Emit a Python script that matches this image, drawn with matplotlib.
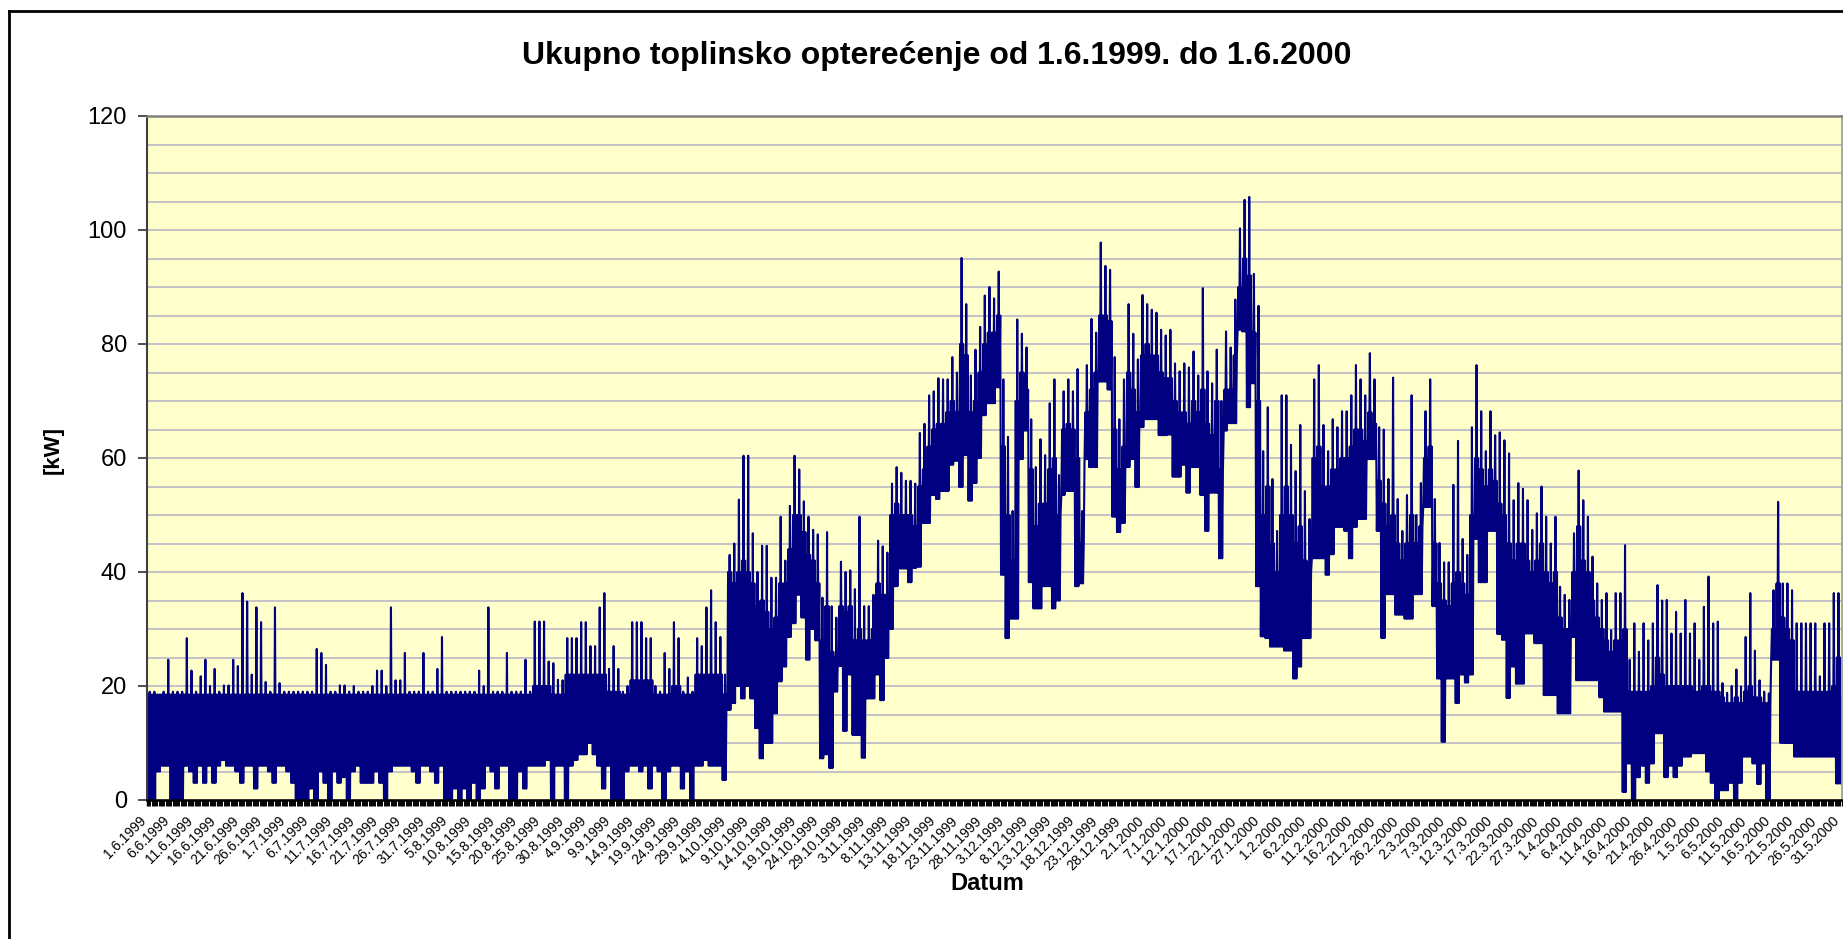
import datetime
import numpy as np
import matplotlib.pyplot as plt
from matplotlib.lines import Line2D
from matplotlib.transforms import ScaledTranslation

plt.rcParams['font.family'] = ['Liberation Sans', 'DejaVu Sans']

# dnevne vrijednosti (1.6.1999 - 31.5.2000), procijenjene sa slike
dan_max = [
    19, 19, 18.5, 19, 24.6, 19, 19, 19, 28.4, 22.7,
    19, 21.7, 24.6, 20, 23, 19, 20.1, 20.1, 24.6, 23.5,
    36.3, 34.8, 22, 33.8, 31.2, 20.7, 19, 33.8, 20.5, 19,
    19, 19, 19, 19, 19, 19, 26.5, 25.8, 23.7, 19,
    19, 20.1, 20.1, 19, 20, 19, 19, 19, 20, 22.7,
    22.7, 20, 33.8, 21, 21, 25.8, 19, 19, 19, 25.8,
    19, 19, 23, 28.6, 19, 19, 19, 19, 19, 19,
    19, 22.7, 20, 33.8, 19, 19, 19, 25.8, 19, 19,
    19, 24.6, 19, 31.3, 31.3, 31.3, 24.3, 24, 21.1, 21,
    28.4, 28.4, 28.4, 31.2, 31.2, 27, 27, 33.8, 36.3, 23,
    27, 23, 19, 20, 31.2, 31.2, 31.2, 28.4, 28.4, 20,
    19, 25.8, 23, 31.2, 28.4, 19, 21.5, 19, 28.4, 27,
    33.8, 36.8, 31.2, 28.6, 22, 43, 45, 52.7, 60.4, 60.4,
    46.8, 40, 44.6, 44.6, 39, 39, 49.7, 42, 51.6, 60.4,
    58, 52.4, 49.7, 47.4, 46.6, 35.5, 47, 34, 32, 41.8,
    40, 40.3, 37, 49.7, 34, 34, 36, 45.5, 44.5, 43.4,
    55.5, 58.4, 57.4, 56, 56, 55.5, 64.4, 66, 71, 71.7,
    74, 73.8, 73.8, 77.7, 75, 95.1, 87, 74.5, 79, 83,
    88.5, 90, 88, 92.7, 73.8, 63.7, 50.7, 84.3, 81.8, 79.4,
    66.8, 58.4, 63.3, 60.5, 69.6, 73.8, 57, 71.7, 73.8, 71.7,
    75.6, 50.7, 76.3, 84.4, 82, 97.8, 93.7, 93, 77.7, 66.8,
    73.8, 87, 81.8, 77.3, 88.6, 87, 86, 85.5, 82.5, 81.5,
    82.5, 76.6, 75.2, 76.6, 75.9, 78.7, 74.5, 89.8, 75.2, 73.1,
    79, 70, 82.2, 79.4, 87.8, 100.3, 105.3, 105.8, 92.3, 86.7,
    61.2, 68.9, 56.3, 47.2, 71, 71, 62.3, 57.7, 65.8, 54.2,
    49.3, 73.8, 76.3, 65.8, 61.2, 66.8, 65.4, 68.2, 68.2, 71,
    76.3, 73.8, 71, 78.4, 73.8, 65.4, 65, 56.3, 74.1, 52.8,
    47.2, 53.5, 71, 50, 55.6, 68.2, 73.8, 52.8, 45.1, 41.7,
    41.7, 55.3, 63, 45.8, 43, 65.4, 76.3, 68.2, 61.2, 68.2,
    64, 64.5, 63.1, 60.8, 52.6, 55.6, 54.6, 52.6, 47.4, 50.3,
    55, 49.7, 45, 49.7, 37.4, 36, 35.1, 46.8, 57.8, 52.6,
    49.7, 42.7, 38, 35.1, 36.3, 29.8, 36.3, 36.3, 44.7, 24.6,
    31, 26, 31, 28, 31, 37.7, 35, 35.1, 29.2, 33,
    29.2, 35.1, 29.2, 31, 24.6, 33.9, 39.2, 31, 31.3, 20.5,
    18.8, 20, 22.9, 19.9, 28.6, 36.3, 26.2, 21, 19, 18.7,
    36.8, 52.3, 38, 38, 36.8, 31, 31, 31, 31, 31,
    21.7, 31, 31, 36.3, 36.3, 23.4,
]

dan_tip = [
    18.5, 18.5, 18.5, 18.5, 18.5, 18.5, 18.5, 18.5, 18.5, 18.5,
    18.5, 18.5, 18.5, 18.5, 18.5, 18.5, 18.5, 18.5, 18.5, 18.5,
    18.5, 18.5, 18.5, 18.5, 18.5, 18.5, 18.5, 18.5, 18.5, 18.5,
    18.5, 18.5, 18.5, 18.5, 18.5, 18.5, 18.5, 18.5, 18.5, 18.5,
    18.5, 18.5, 18.5, 18.5, 18.5, 18.5, 18.5, 18.5, 18.5, 18.5,
    18.5, 18.5, 18.5, 18.5, 18.5, 18.5, 18.5, 18.5, 18.5, 18.5,
    18.5, 18.5, 18.5, 18.5, 18.5, 18.5, 18.5, 18.5, 18.5, 18.5,
    18.5, 18.5, 18.5, 18.5, 18.5, 18.5, 18.5, 18.5, 18.5, 18.5,
    18.5, 18.5, 18.5, 20, 20, 20, 20, 18.5, 18.5, 18.5,
    22, 22, 22, 22, 22, 22, 22, 22, 22, 19,
    19, 19, 18.5, 18.5, 21, 21, 21, 21, 21, 18.5,
    18.5, 18.5, 18.5, 20, 20, 18.5, 18.5, 18.5, 22, 22,
    22, 22, 22, 22, 18.5, 40, 38, 40, 42, 40,
    38, 34, 35, 33, 30, 32, 38, 38, 44, 50,
    50, 47, 43, 42, 38, 28, 34, 26, 25, 34,
    33, 34, 28, 30, 28, 28, 30, 38, 36, 36,
    50, 52, 50, 50, 50, 48, 55, 58, 62, 65,
    66, 66, 68, 70, 68, 80, 78, 68, 70, 75,
    80, 82, 82, 85, 62, 50, 42, 70, 75, 72,
    58, 48, 52, 52, 58, 60, 50, 65, 66, 65,
    60, 45, 68, 72, 75, 85, 85, 84, 65, 58,
    62, 75, 72, 68, 78, 80, 78, 78, 75, 74,
    74, 70, 68, 68, 66, 70, 68, 72, 66, 64,
    70, 58, 72, 72, 78, 90, 95, 92, 82, 70,
    50, 55, 45, 40, 50, 55, 50, 45, 48, 42,
    40, 60, 62, 55, 55, 58, 58, 60, 60, 62,
    65, 65, 63, 68, 66, 56, 52, 48, 50, 45,
    42, 45, 50, 45, 48, 60, 62, 45, 38, 35,
    34, 38, 40, 38, 36, 50, 60, 58, 55, 58,
    56, 52, 50, 45, 42, 45, 45, 42, 40, 42,
    45, 40, 38, 40, 32, 30, 30, 40, 48, 42,
    40, 35, 32, 30, 28, 26, 28, 28, 30, 19,
    19, 19, 19, 19, 20, 25, 22, 20, 20, 20,
    20, 20, 20, 19, 19, 20, 20, 19, 19, 18,
    17, 17, 18, 17, 19, 20, 18, 18, 17, 17,
    30, 38, 32, 30, 28, 19, 19, 19, 19, 19,
    19, 19, 19, 20, 25, 18,
]

dan_min = [
    0, 0, 5, 6, 6, 0, 0, 0, 6, 5,
    3, 6, 3, 6, 3, 6, 7, 6, 6, 5,
    3, 6, 6, 2, 6, 6, 5, 3, 6, 6,
    5, 3, 0, 0, 0, 2, 0, 5, 3, 0,
    5, 3, 4, 0, 5, 6, 3, 3, 3, 5,
    3, 0, 5, 6, 6, 6, 6, 5, 3, 6,
    6, 5, 3, 6, 0, 0, 2, 0, 2, 0,
    3, 0, 2, 6, 5, 2, 6, 6, 0, 0,
    5, 2, 6, 6, 6, 6, 7, 0, 6, 6,
    0, 6, 7, 8, 8, 10, 8, 6, 2, 6,
    0, 0, 0, 5, 6, 6, 5, 6, 2, 6,
    5, 0, 5, 6, 6, 2, 5, 0, 6, 6,
    7, 6, 6, 6, 3.5, 15.8, 17, 20, 17.8, 20,
    17.8, 12.6, 7.3, 10, 10, 15.2, 20.8, 23.4, 28.6, 31,
    36, 32, 24.6, 30, 28, 7.3, 8, 5.6, 19, 23.5,
    12.1, 22, 11.4, 11.4, 7.4, 17.8, 17.8, 22, 17.5, 24.9,
    30, 37.5, 40.6, 40.6, 38.2, 40.7, 40.9, 48.6, 48.6, 53.5,
    52.8, 54.2, 54.2, 58.8, 59.5, 54.9, 60.5, 52.5, 55.6, 60,
    67.5, 69.6, 69.6, 72.4, 39.5, 28.4, 31.8, 31.8, 59.8, 64.8,
    38.2, 33.6, 33.6, 37.5, 37.5, 33.6, 35, 53.5, 54.2, 54.2,
    37.5, 38, 59.8, 58.4, 58.4, 73.4, 73.4, 72, 49.7, 47,
    48.6, 58.4, 59.8, 54.9, 65.4, 66.8, 66.8, 66.8, 64, 64,
    64.1, 56.7, 56.7, 58.8, 53.9, 58.4, 58.4, 53.5, 47.2, 53.9,
    53.9, 42.4, 64.8, 66.1, 66.1, 82.5, 82.2, 68.9, 73.1, 37.5,
    28.7, 28.4, 26.9, 26.9, 26.9, 26.2, 26.2, 21.3, 23.4, 28.4,
    28.4, 42.4, 42.4, 42.4, 39.5, 43.1, 47.9, 47.9, 47.2, 42.4,
    47.9, 49.3, 49.3, 59.8, 59.8, 47.2, 28.4, 36.1, 36.1, 32.5,
    32.5, 31.8, 31.8, 36.1, 36.1, 51.4, 51.4, 34, 21.3, 10.2,
    21.3, 21.3, 17, 22, 20.6, 22, 45.8, 38.2, 38.2, 47.2,
    47.2, 29.1, 28.1, 17.9, 23.4, 20.4, 20.4, 29.2, 29.2, 27.5,
    27.5, 18.4, 18.4, 18.4, 15.2, 15.2, 15.2, 28.6, 21, 21,
    21, 21, 21, 18, 15.5, 15.5, 15.5, 15.5, 1.4, 6.4,
    0, 4, 6, 3, 6.4, 11.7, 11.7, 4, 6, 4,
    6, 7.6, 7.6, 8.2, 8.2, 8.2, 5, 3, 0, 1.7,
    1.7, 3, 0, 3, 7.6, 7.6, 6.4, 2.8, 6.4, 0,
    24.6, 24.6, 10, 10, 10, 7.6, 7.6, 7.6, 7.6, 7.6,
    7.6, 7.6, 7.6, 7.6, 2.9, 2.9,
]

pocetak = datetime.date(1999, 6, 1)
dani = np.arange(len(dan_max))
oznake_dani = np.arange(0, 366, 5)
oznake = []
for d in oznake_dani:
    dt = pocetak + datetime.timedelta(days=int(d))
    oznake.append("%d.%d.%d" % (dt.day, dt.month, dt.year))

# unutar dana: min, tipicno, min, max, min, tipicno
lo = np.array(dan_min)
tp = np.array(dan_tip)
hi = np.array(dan_max)
pomak = np.array([1, 3, 5, 7, 9, 11]) / 12
x = (dani[:, None] + pomak[None, :]).ravel()
y = np.column_stack([lo, tp, lo, hi, lo, tp]).ravel()

W, H = 1843, 939
fig = plt.figure(figsize=(W / 100, H / 100), dpi=100)
fig.patch.set_facecolor('white')
ax = fig.add_axes([147 / W, (H - 800) / H, (1842 - 147) / W, (800 - 116) / H])
ax.set_facecolor('#FFFFCC')

ax.plot(x, y, color='#000080', linewidth=1.5)

ax.set_xlim(0, 365.35)
ax.set_ylim(0, 120)
ax.set_yticks(np.arange(0, 121, 20))
ax.set_yticks(np.arange(0, 121, 5), minor=True)
ax.yaxis.grid(True, which='both', color='#BDBDC8', linewidth=1.3)
ax.set_axisbelow(True)
ax.tick_params(axis='y', which='major', length=6.5, width=1.3, color='#404040',
               labelsize=17, pad=8)
ax.tick_params(axis='y', which='minor', length=0)

ax.set_xticks(oznake_dani)
ax.set_xticklabels(oznake, rotation=45, ha='right', va='top',
                   rotation_mode='anchor', fontsize=10)
ax.set_xticks(np.arange(0, 365.4, 0.25), minor=True)
ax.tick_params(axis='x', which='major', length=4, width=1.0, color='black', pad=6)
ax.tick_params(axis='x', which='minor', length=4, width=0.7, color='black')
pomakx = ScaledTranslation(-8 / 100, 0, fig.dpi_scale_trans)
for t in ax.get_xticklabels():
    t.set_transform(t.get_transform() + pomakx)

ax.spines['left'].set_color('#404040')
ax.spines['left'].set_linewidth(1.5)
ax.spines['top'].set_color('#808080')
ax.spines['top'].set_linewidth(1.8)
ax.spines['right'].set_color('#A0A0A0')
ax.spines['right'].set_linewidth(1.3)
ax.spines['bottom'].set_color('black')
ax.spines['bottom'].set_linewidth(1.8)

fig.text(937 / W, 1 - 56 / H, "Ukupno toplinsko opterećenje od 1.6.1999. do 1.6.2000",
         ha='center', va='center', fontsize=23, fontweight='bold')
fig.text(987 / W, 1 - 884 / H, "Datum", ha='center', va='center',
         fontsize=17, fontweight='bold')
fig.text(53 / W, 1 - 450 / H, "[kW]", ha='center', va='center', rotation=90,
         fontsize=16, fontweight='bold')

# okvir grafikona
fig.add_artist(Line2D([9 / W, 1.0], [1 - 11 / H, 1 - 11 / H], color='black', linewidth=2))
fig.add_artist(Line2D([9 / W, 9 / W], [0, 1 - 11 / H], color='black', linewidth=2))

fig.savefig('out.png', dpi=100)
